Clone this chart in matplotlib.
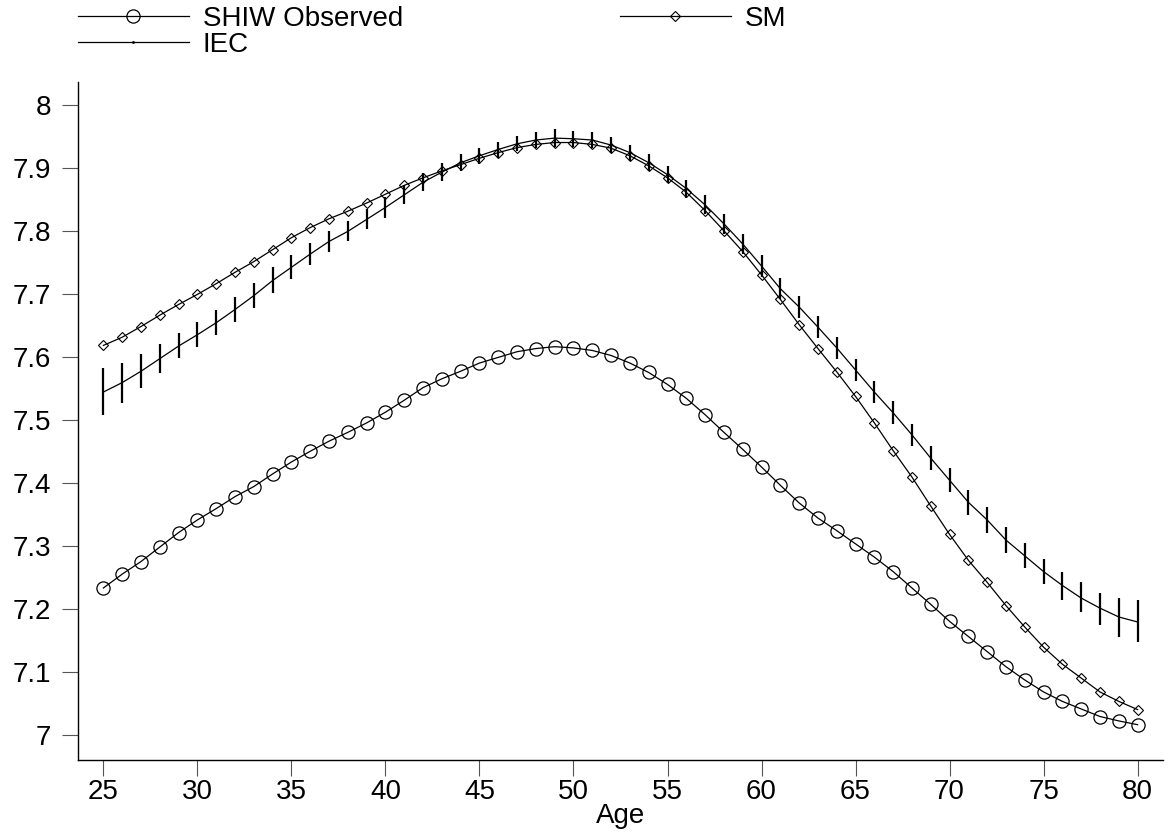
import matplotlib
matplotlib.use("Agg")
import matplotlib.pyplot as plt
from matplotlib.lines import Line2D

plt.rcParams['font.family'] = ['Liberation Sans', 'DejaVu Sans']

ages = list(range(25, 81))

# SHIW observed (circles)
shiw = [7.234, 7.256, 7.276, 7.299, 7.322, 7.342, 7.360, 7.379, 7.395, 7.415,
        7.434, 7.451, 7.467, 7.481, 7.496, 7.513, 7.532, 7.552, 7.566, 7.578,
        7.591, 7.600, 7.609, 7.614, 7.617, 7.615, 7.611, 7.603, 7.591, 7.576,
        7.557, 7.535, 7.509, 7.481, 7.454, 7.426, 7.397, 7.369, 7.345, 7.325,
        7.304, 7.283, 7.260, 7.234, 7.208, 7.181, 7.157, 7.133, 7.109, 7.088,
        7.069, 7.054, 7.042, 7.030, 7.023, 7.017]

# SM (diamonds)
sm = [7.619, 7.632, 7.649, 7.667, 7.684, 7.700, 7.717, 7.735, 7.752, 7.771,
      7.790, 7.806, 7.820, 7.832, 7.845, 7.859, 7.873, 7.885, 7.896, 7.906,
      7.916, 7.925, 7.933, 7.938, 7.941, 7.941, 7.938, 7.932, 7.920, 7.904,
      7.885, 7.862, 7.833, 7.801, 7.768, 7.731, 7.692, 7.652, 7.614, 7.577,
      7.538, 7.496, 7.452, 7.410, 7.364, 7.319, 7.278, 7.243, 7.206, 7.172,
      7.140, 7.113, 7.091, 7.069, 7.054, 7.041]

# IEC mean line and spread of the simulated points
iec = [7.545, 7.560, 7.578, 7.598, 7.618, 7.636, 7.655, 7.676, 7.698, 7.722,
       7.743, 7.764, 7.784, 7.800, 7.819, 7.838, 7.858, 7.878, 7.894, 7.909,
       7.920, 7.930, 7.939, 7.945, 7.948, 7.947, 7.945, 7.937, 7.925, 7.909,
       7.890, 7.868, 7.842, 7.812, 7.780, 7.745, 7.709, 7.680, 7.648, 7.615,
       7.580, 7.545, 7.512, 7.477, 7.440, 7.405, 7.370, 7.342, 7.310, 7.285,
       7.260, 7.238, 7.218, 7.202, 7.188, 7.180]
iec_lo = [7.508, 7.527, 7.551, 7.575, 7.599, 7.616, 7.635, 7.656, 7.678, 7.702,
          7.724, 7.746, 7.767, 7.784, 7.803, 7.822, 7.844, 7.864, 7.880, 7.896,
          7.907, 7.917, 7.927, 7.932, 7.934, 7.934, 7.932, 7.924, 7.912, 7.896,
          7.876, 7.853, 7.827, 7.796, 7.764, 7.728, 7.692, 7.663, 7.630, 7.597,
          7.562, 7.527, 7.494, 7.459, 7.421, 7.386, 7.350, 7.322, 7.290, 7.265,
          7.240, 7.215, 7.196, 7.175, 7.156, 7.149]
iec_hi = [7.583, 7.591, 7.605, 7.621, 7.638, 7.656, 7.675, 7.696, 7.718, 7.743,
          7.762, 7.782, 7.801, 7.817, 7.835, 7.854, 7.873, 7.892, 7.908, 7.922,
          7.932, 7.942, 7.951, 7.957, 7.962, 7.960, 7.957, 7.949, 7.937, 7.922,
          7.903, 7.882, 7.857, 7.827, 7.796, 7.762, 7.726, 7.697, 7.665, 7.632,
          7.597, 7.562, 7.530, 7.495, 7.459, 7.424, 7.390, 7.362, 7.330, 7.305,
          7.280, 7.259, 7.243, 7.226, 7.218, 7.215]

xticks = [25, 30, 35, 40, 45, 50, 55, 60, 65, 70, 75, 80]
yticks = [7, 7.1, 7.2, 7.3, 7.4, 7.5, 7.6, 7.7, 7.8, 7.9, 8]
ytick_labels = ['7', '7.1', '7.2', '7.3', '7.4', '7.5', '7.6', '7.7', '7.8', '7.9', '8']

fs = 20

fig = plt.figure(figsize=(11.68, 8.38), dpi=100)
ax = fig.add_axes([0.0668, 0.0931, 0.9289, 0.809])

ax.plot(ages, shiw, color='black', lw=0.9, marker='o', markersize=9.5,
        markerfacecolor='none', markeredgecolor='black', markeredgewidth=0.9)
ax.plot(ages, sm, color='black', lw=0.9, marker='D', markersize=5,
        markerfacecolor='none', markeredgecolor='black', markeredgewidth=0.8)
ax.vlines(ages, iec_lo, iec_hi, color='black', lw=1.6)
ax.plot(ages, iec, color='black', lw=0.9)

ax.set_xlim(23.65, 81.35)
ax.set_ylim(6.961, 8.037)
ax.set_xticks(xticks)
ax.set_yticks(yticks)
ax.set_yticklabels(ytick_labels)
ax.tick_params(axis='both', labelsize=fs, length=11.5, width=0.8, color='#555555')
ax.tick_params(axis='y', pad=8)
ax.tick_params(axis='x', pad=2)
for s in ['top', 'right']:
    ax.spines[s].set_visible(False)
for s in ['left', 'bottom']:
    ax.spines[s].set_linewidth(1.0)
ax.set_xlabel('Age', fontsize=fs, labelpad=-1)

h_shiw = Line2D([], [], color='black', lw=0.9, marker='o', markersize=9.5,
                markerfacecolor='none', markeredgewidth=0.9)
h_iec = Line2D([], [], color='black', lw=0.9, marker='.', markersize=2)
h_sm = Line2D([], [], color='black', lw=0.9, marker='D', markersize=5,
              markerfacecolor='none', markeredgewidth=0.8)
fig.legend([h_shiw, h_iec, h_sm], ['SHIW Observed', 'IEC', 'SM'],
           loc='upper left', bbox_to_anchor=(64 / 1168, 1.01), ncol=2,
           frameon=False, borderpad=0, fontsize=fs, handlelength=4.0,
           handletextpad=0.5, columnspacing=7.8, labelspacing=0.0)

fig.savefig('out.png', dpi=100, facecolor='white')
